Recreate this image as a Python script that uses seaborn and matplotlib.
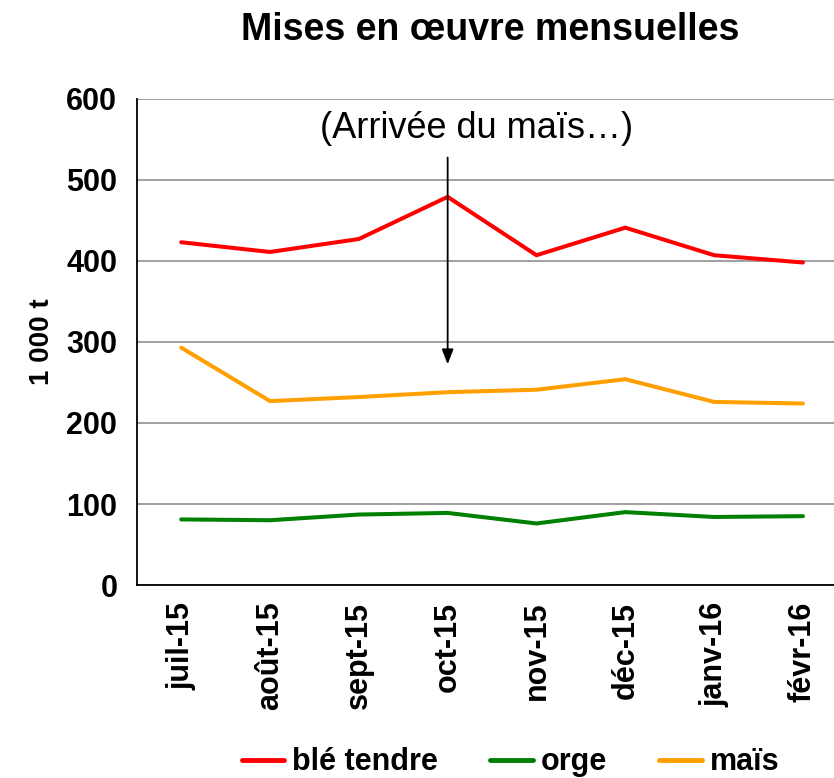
import matplotlib
matplotlib.use("Agg")
import matplotlib.pyplot as plt
import seaborn as sns
import pandas as pd
import numpy as np

months = ["juil-15", "août-15", "sept-15", "oct-15", "nov-15", "déc-15", "janv-16", "févr-16"]
ble_tendre = [423, 411, 427, 479, 407, 441, 407, 398]
orge = [81, 80, 87, 89, 76, 90, 84, 85]
mais = [293, 227, 232, 238, 241, 254, 226, 224]

series = {"blé tendre": ble_tendre, "orge": orge, "maïs": mais}
colors = {"blé tendre": "#FF0000", "orge": "#008000", "maïs": "#FFA000"}

rows = []
for name, vals in series.items():
    for i, v in enumerate(vals):
        rows.append({"mois": i, "valeur": v, "produit": name})
df = pd.DataFrame(rows)

sns.set_style("white")
plt.rcParams["font.family"] = ["Liberation Sans", "DejaVu Sans"]
plt.rcParams["text.color"] = "black"
plt.rcParams["xtick.color"] = "black"
plt.rcParams["ytick.color"] = "black"
plt.rcParams["axes.labelcolor"] = "black"

fig = plt.figure(figsize=(8.34, 7.78), dpi=100)
ax = fig.add_axes([0.164, 0.248, 0.852, 0.625])

sns.lineplot(data=df, x="mois", y="valeur", hue="produit", palette=colors,
             linewidth=2.9, ax=ax, legend=False)

ax.set_xlim(-0.5, 7.5)
ax.set_ylim(0, 600)
ax.set_yticks(range(0, 601, 100))
ax.yaxis.grid(True, color="#999999", linewidth=1.3)
ax.set_axisbelow(True)

ax.set_xticks(range(len(months)))
ax.set_xticklabels(months, rotation=90, fontsize=22, fontweight="bold")
ax.set_xticks(np.arange(-0.5, 8, 1), minor=True)
ax.tick_params(axis="x", which="major", length=0, pad=12)
ax.tick_params(axis="x", which="minor", length=7, width=1.2, color="black", direction="out")
ax.tick_params(axis="y", length=6, width=1.2, color="black", direction="out", pad=8)
for lab in ax.get_yticklabels():
    lab.set_fontsize(22)
    lab.set_fontweight("bold")

for side in ["top", "right"]:
    ax.spines[side].set_visible(False)
for side in ["left", "bottom"]:
    ax.spines[side].set_color("black")
    ax.spines[side].set_linewidth(1.3)

ax.set_xlabel("")
ax.set_ylabel("1 000 t", fontsize=20, fontweight="bold", labelpad=8)

# annotation arrow
ax.annotate("", xy=(3, 269), xytext=(3, 531),
            arrowprops=dict(arrowstyle="-|>,head_length=0.9,head_width=0.35",
                            color="black", lw=1.3))
ax.text(3.32, 563, "(Arrivée du maïs…)", ha="center", va="center", fontsize=26)

fig.text(0.588, 0.962, "Mises en œuvre mensuelles", ha="center", va="center",
         fontsize=27, fontweight="bold")

handles = [plt.Line2D([], [], color=colors[n], linewidth=3.5) for n in series]
fig.legend(handles, list(series.keys()), loc="center", bbox_to_anchor=(0.612, 0.02),
           ncol=3, frameon=False, handlelength=1.4, handletextpad=0.26, columnspacing=1.7,
           prop={"weight": "bold", "size": 22})

fig.savefig("out.png", dpi=100)
